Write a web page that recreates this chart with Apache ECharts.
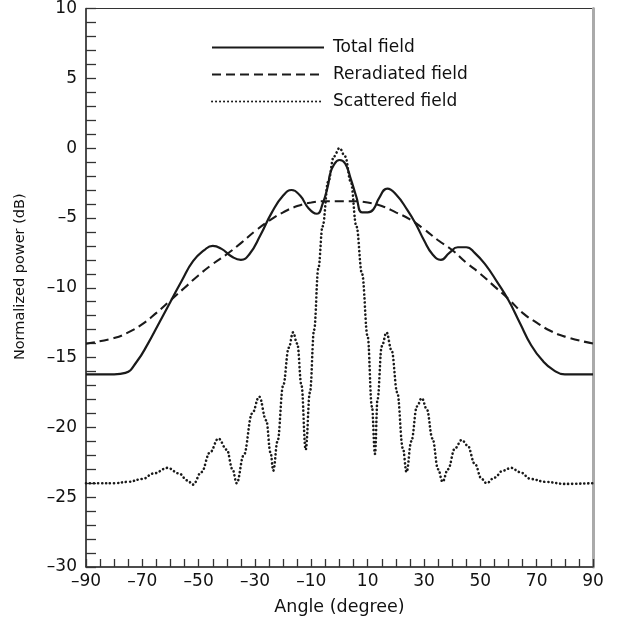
<!DOCTYPE html>
<html>
<head>
<meta charset="utf-8">
<script src="https://cdn.jsdelivr.net/npm/echarts@6/dist/echarts.min.js"></script>
<style>html,body{margin:0;padding:0;background:#fff}#c{width:623px;height:623px}</style>
</head>
<body>
<div id="c"></div>
<script>
// ---- data ----
var seriesNames = ['Total field', 'Reradiated field', 'Scattered field'];

var totalAngles = [-90,-80,-76,-72,-68,-64,-60,-56,-52,-48,-45,-42,-38,-35,-32,-28,-24,-20,-17,-14,-11,-8,-6,-4,-3.4,-2,0,2,4,6,8,10,12,14,17,20,24,27,30,33,36,39,42,45,48,52,56,60,64,68,72,76,80,90];
var totalValues = [-16.2,-16.2,-16.1,-15.3,-14.0,-12.5,-11.0,-9.5,-8.1,-7.3,-7.0,-7.2,-7.8,-8.0,-7.6,-6.2,-4.6,-3.4,-3.0,-3.4,-4.3,-4.7,-4.0,-2.6,-1.9,-1.2,-0.85,-1.1,-2.2,-3.5,-4.6,-4.6,-4.4,-3.6,-2.9,-3.3,-4.4,-5.4,-6.6,-7.6,-8.0,-7.5,-7.1,-7.1,-7.5,-8.4,-9.6,-10.9,-12.5,-14.1,-15.2,-15.9,-16.2,-16.2];

var reradAngles = [-90,-80,-75,-70,-65,-60,-55,-50,-45,-40,-35,-30,-25,-20,-15,-10,-5,0,5,10,15,20,25,30,35,40,45,50,55,60,65,70,75,80,90];
var reradValues = [-14.0,-13.6,-13.2,-12.6,-11.8,-10.9,-10.0,-9.1,-8.3,-7.6,-6.8,-5.95,-5.2,-4.6,-4.15,-3.9,-3.8,-3.8,-3.8,-3.9,-4.15,-4.6,-5.1,-5.8,-6.6,-7.3,-8.2,-9.0,-9.9,-10.8,-11.8,-12.5,-13.1,-13.5,-14.0];

var scatAngles = [-90,-85,-80,-75,-70,-66,-61,-57,-54,-52,-49,-46,-43,-40,-38,-36.5,-34,-31,-28.5,-26,-24.5,-23.5,-22,-20,-18,-16.5,-15,-13.5,-12,-10.5,-9,-7.5,-6,-4,-2,0,2,4,6,8,10,11.5,12.6,13.5,15,16.7,18.5,20.5,22.5,23.8,25.5,27.5,29.2,31,33,35,36.6,38.5,41,43.4,45.5,48,50.5,52.2,55,58,61,64,68,73,80,90];
var scatValues = [-24.0,-24.0,-24.0,-23.9,-23.7,-23.3,-22.9,-23.3,-23.8,-24.1,-23.2,-21.8,-20.8,-21.6,-23.0,-24.0,-22.0,-19.0,-17.8,-19.5,-21.8,-23.1,-21.0,-17.0,-14.3,-13.2,-14.0,-17.0,-21.6,-17.5,-13.0,-8.6,-5.6,-2.4,-0.6,0.0,-0.6,-2.4,-5.6,-9.0,-13.5,-18.5,-21.9,-18.0,-14.2,-13.2,-14.5,-17.5,-21.5,-23.2,-21.0,-18.5,-17.9,-18.7,-20.8,-23.0,-23.9,-23.0,-21.5,-20.9,-21.3,-22.6,-23.7,-24.0,-23.6,-23.1,-22.9,-23.2,-23.7,-23.9,-24.05,-24.0];

var xMin = -90, xMax = 90, xStep = 10;
var yMin = -30, yMax = 10, yStep = 5;
var xTitle = 'Angle (degree)';
var yTitle = 'Normalized power (dB)';

function pairs(a, v) { return a.map(function (x, i) { return [x, v[i]]; }); }
var FONT = 'DejaVu Sans, Liberation Sans, Arial, sans-serif';
var INK = '#111';

var chart = echarts.init(document.getElementById('c'), null, {renderer: 'canvas'});
chart.setOption({
  animation: false,
  backgroundColor: '#fff',
  textStyle: {fontFamily: FONT},
  grid: {left: 86, top: 8, right: 30, bottom: 56, show: true, borderColor: '#333', borderWidth: 1},
  legend: {
    orient: 'vertical', left: 206, top: 34,
    itemWidth: 112, itemHeight: 14, itemGap: 10,
    itemStyle: {opacity: 0},
    textStyle: {fontFamily: FONT, fontSize: 17, color: INK, padding: [0, 0, 0, 4]},
    data: seriesNames
  },
  xAxis: {
    type: 'value', min: xMin, max: xMax, interval: xStep,
    name: xTitle, nameLocation: 'middle', nameGap: 31,
    nameTextStyle: {fontFamily: FONT, fontSize: 17.5, color: INK},
    axisLine: {show: true, onZero: false, lineStyle: {color: '#333', width: 1.5}},
    axisTick: {show: true, inside: true, length: 8, lineStyle: {color: '#333', width: 1.3}},
    minorTick: {show: true, splitNumber: 2, length: 8, lineStyle: {color: '#333', width: 1.3}},
    splitLine: {show: false},
    axisLabel: {
      fontFamily: FONT, fontSize: 17, color: INK, margin: 6,
      formatter: function (v) {
        if (Math.round(v / 10) % 2 === 0) return '';
        return String(v).replace('-', '\u2013');
      }
    }
  },
  yAxis: [{
    type: 'value', min: yMin, max: yMax, interval: yStep,
    name: yTitle, nameLocation: 'middle', nameGap: 58, nameRotate: 90,
    nameTextStyle: {fontFamily: FONT, fontSize: 14.5, color: INK, padding: [0, 0, 0, 22]},
    axisLine: {show: true, onZero: false, lineStyle: {color: '#333', width: 1.5}},
    axisTick: {show: true, inside: true, length: 10, lineStyle: {color: '#333', width: 1.3}},
    minorTick: {show: true, splitNumber: 5, length: 10, lineStyle: {color: '#333', width: 1.3}},
    splitLine: {show: false},
    axisLabel: {
      fontFamily: FONT, fontSize: 17, color: INK, margin: 9,
      formatter: function (v) { return String(v).replace('-', '\u2013'); }
    }
  }, {
    type: 'value', min: yMin, max: yMax, position: 'right',
    axisLine: {show: true, onZero: false, lineStyle: {color: '#aaa', width: 3}},
    axisTick: {show: false}, axisLabel: {show: false}, splitLine: {show: false}
  }],
  series: [{
    name: seriesNames[0], type: 'line', symbol: 'none', smooth: 0.5,
    data: pairs(totalAngles, totalValues),
    itemStyle: {color: '#1a1a1a'},
    lineStyle: {color: '#1a1a1a', width: 2.2}
  }, {
    name: seriesNames[1], type: 'line', symbol: 'none', smooth: 0.5,
    data: pairs(reradAngles, reradValues),
    itemStyle: {color: '#1a1a1a'},
    lineStyle: {color: '#1a1a1a', width: 2.1, type: [9, 5]}
  }, {
    name: seriesNames[2], type: 'line', symbol: 'none', smooth: 0.4, smoothMonotone: 'x',
    data: pairs(scatAngles, scatValues),
    itemStyle: {color: '#1a1a1a'},
    lineStyle: {color: '#1a1a1a', width: 2.6, type: [0.1, 3.9], cap: 'round'}
  }]
});
</script>
</body>
</html>
